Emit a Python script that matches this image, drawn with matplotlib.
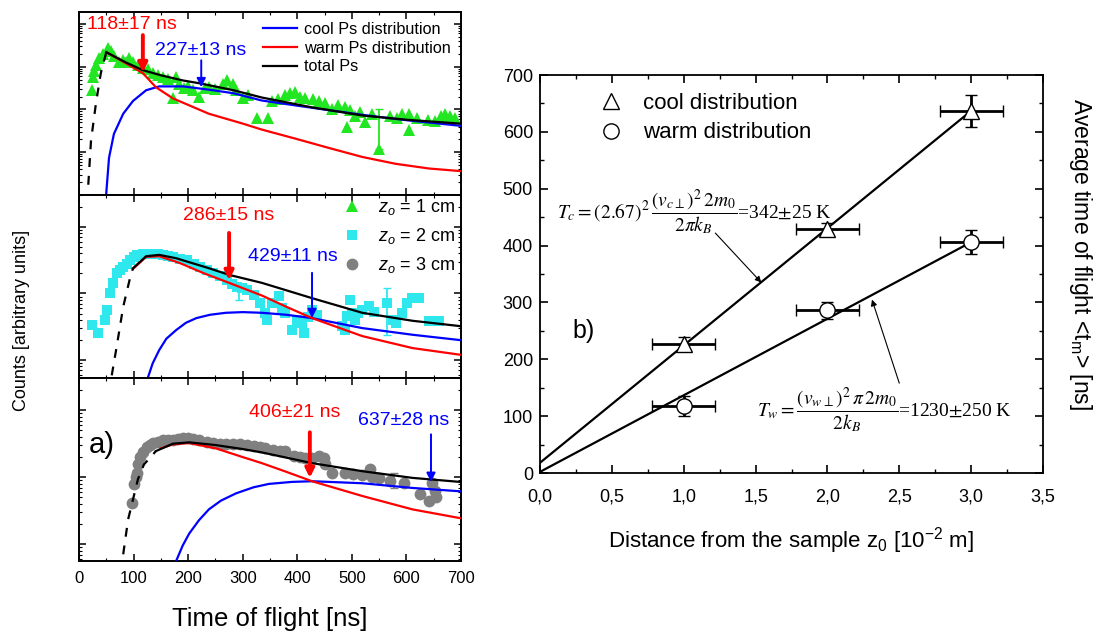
import numpy as np
import matplotlib.pyplot as plt
from matplotlib.lines import Line2D
from matplotlib.ticker import MultipleLocator, LogLocator, NullFormatter, FuncFormatter

plt.rcParams['font.family'] = ['Liberation Sans', 'DejaVu Sans']
plt.rcParams['mathtext.fontset'] = 'custom'
plt.rcParams['mathtext.rm'] = 'Liberation Sans'
plt.rcParams['mathtext.it'] = 'Liberation Sans:italic'
plt.rcParams['mathtext.bf'] = 'Liberation Sans:bold'

NARROW = ['Liberation Sans Narrow', 'Liberation Sans', 'DejaVu Sans']

# ---- panel a): time of flight spectra, values are log10(counts) ----
# z0 = 1 cm
p1_t = [24, 25, 27, 31, 37, 44, 53, 59, 64, 73, 80, 86, 92, 99, 108, 117, 126, 136, 145, 154,
        163, 172, 178, 183, 192, 200, 209, 220, 230, 238, 250, 264, 271, 282, 288, 300, 310, 326,
        346, 354, 365, 378, 387, 396, 405, 415, 428, 440, 451, 464, 475, 487, 491, 497, 506, 515,
        524, 537, 550, 570, 582, 592, 605, 605, 620, 640, 653, 664, 671, 680, 689]
p1_log = [2.45, 2.75, 2.9, 3.05, 3.2, 3.3, 3.43, 3.36, 3.25, 3.12, 3.15, 3.12, 3.2, 3.1, 3.05, 2.97,
          2.95, 2.85, 2.8, 2.75, 2.72, 2.28, 2.75, 2.6, 2.5, 2.55, 2.45, 2.3, 2.5, 2.52, 2.48, 2.6,
          2.68, 2.6, 2.45, 2.28, 2.35, 1.81, 1.81, 2.2, 2.25, 2.33, 2.38, 2.4, 2.3, 2.28, 2.25, 2.2,
          2.15, 2.0, 2.1, 2.05, 1.58, 1.98, 1.85, 1.95, 1.7, 1.9, 1.08, 1.85, 1.8, 1.9, 1.51, 1.9,
          1.8, 1.75, 1.74, 1.85, 1.9, 1.85, 1.81]
p1_dash_t = [17, 22, 31, 40, 50]
p1_dash_log = [0.24, 1.27, 2.14, 2.85, 3.34]
p1_total_t = [50, 86, 117, 150, 190, 222, 283, 335, 427, 519, 600, 698]
p1_total_log = [3.34, 3.1, 2.92, 2.8, 2.68, 2.61, 2.45, 2.28, 2.05, 1.86, 1.76, 1.67]
p1_warm_t = [50, 86, 117, 141, 172, 238, 300, 335, 396, 458, 519, 580, 641, 698]
p1_warm_log = [3.34, 3.08, 2.85, 2.52, 2.26, 1.9, 1.67, 1.53, 1.32, 1.1, 0.89, 0.73, 0.62, 0.56]
p1_cool_t = [50, 55, 64, 81, 99, 123, 147, 191, 240, 283, 335, 405, 466, 528, 600, 698]
p1_cool_log = [0.05, 0.87, 1.43, 1.9, 2.2, 2.45, 2.54, 2.54, 2.46, 2.38, 2.21, 2.08, 1.97, 1.86,
               1.75, 1.62]

# z0 = 2 cm
p2_t = [24, 35, 48, 51, 57, 63, 69, 75, 81, 88, 94, 100, 106, 117, 127, 136, 145, 154, 163, 172,
        185, 197, 210, 222, 234, 246, 258, 271, 280, 290, 299, 308, 320, 332, 341, 344, 354, 366,
        372, 378, 390, 400, 409, 412, 420, 427, 436, 482, 487, 491, 497, 500, 506, 512, 519, 531,
        540, 565, 575, 580, 592, 601, 611, 623, 642, 660]
p2_log = [1.53, 1.4, 1.6, 1.75, 2.0, 2.16, 2.31, 2.36, 2.4, 2.45, 2.5, 2.55, 2.58, 2.6, 2.6, 2.6,
          2.59, 2.58, 2.56, 2.55, 2.52, 2.5, 2.45, 2.4, 2.35, 2.31, 2.26, 2.2, 2.15, 2.1, 2.08, 2.05,
          1.98, 1.86, 1.7, 1.6, 1.86, 1.96, 1.78, 1.7, 1.45, 1.6, 1.55, 1.4, 1.65, 1.75, 1.68, 1.51,
          1.45, 1.66, 1.9, 1.7, 1.6, 1.7, 1.75, 1.81, 1.72, 1.86, 1.6, 1.55, 1.7, 1.86, 1.93, 1.93,
          1.59, 1.59]
p2_dash_t = [60, 69, 81, 94, 99]
p2_dash_log = [0.77, 1.2, 1.8, 2.25, 2.38]
p2_total_t = [99, 123, 147, 178, 238, 275, 335, 427, 519, 611, 698]
p2_total_log = [2.38, 2.56, 2.58, 2.53, 2.38, 2.28, 2.16, 1.93, 1.71, 1.59, 1.51]
p2_warm_t = [99, 123, 147, 184, 230, 275, 335, 380, 427, 519, 611, 698]
p2_warm_log = [2.37, 2.55, 2.56, 2.46, 2.3, 2.16, 1.97, 1.8, 1.63, 1.36, 1.18, 1.08]
p2_cool_t = [126, 135, 147, 160, 178, 196, 215, 240, 269, 300, 335, 380, 427, 519, 611, 698]
p2_cool_log = [0.73, 0.95, 1.15, 1.32, 1.45, 1.56, 1.63, 1.68, 1.71, 1.72, 1.71, 1.68, 1.63, 1.48,
               1.38, 1.3]

# z0 = 3 cm
p3_t = [97, 100, 104, 106, 109, 112, 117, 124, 130, 136, 145, 154, 163, 172, 182, 191, 200, 209,
        220, 234, 246, 258, 270, 283, 295, 308, 320, 332, 341, 356, 368, 378, 394, 405, 414, 427,
        440, 449, 451, 464, 488, 503, 519, 534, 537, 550, 570, 596, 624, 642, 647, 652, 655]
p3_log = [1.61, 1.9, 2.0, 2.06, 2.2, 2.3, 2.38, 2.45, 2.48, 2.51, 2.53, 2.55, 2.55, 2.55, 2.57,
          2.58, 2.58, 2.57, 2.55, 2.52, 2.51, 2.5, 2.5, 2.49, 2.49, 2.48, 2.47, 2.45, 2.43, 2.4,
          2.39, 2.39, 2.31, 2.3, 2.28, 2.28, 2.31, 2.28, 2.19, 2.06, 2.06, 2.05, 2.04, 2.12, 2.01,
          1.99, 1.95, 1.91, 1.75, 1.64, 1.91, 1.79, 1.7]
p3_dash_t = [81, 90, 99, 108, 119, 141]
p3_dash_log = [0.85, 1.37, 1.67, 1.97, 2.19, 2.39]
p3_total_t = [141, 172, 202, 250, 300, 335, 427, 519, 611, 698]
p3_total_log = [2.39, 2.5, 2.52, 2.48, 2.42, 2.37, 2.21, 2.09, 1.99, 1.93]
p3_warm_t = [150, 172, 202, 251, 300, 335, 380, 427, 519, 611, 698]
p3_warm_log = [2.43, 2.49, 2.51, 2.43, 2.3, 2.21, 2.08, 1.94, 1.72, 1.52, 1.39]
p3_cool_t = [178, 190, 202, 220, 238, 260, 288, 320, 348, 390, 427, 519, 611, 698]
p3_cool_log = [0.75, 0.98, 1.16, 1.36, 1.52, 1.65, 1.76, 1.85, 1.9, 1.93, 1.94, 1.91, 1.84, 1.79]

# error bars shown in the spectra: (t, low, point, high) in log10 counts
p1_err = (550, 1.08, 1.08, 2.02)
p2_err = [(565, 1.38, 1.86, 2.08), (293, 1.9, 1.98, 2.05)]
p3_err = (578, 1.84, 1.95, 2.06)

# fitted mean times [ns] for warm / cool components
warm_times = [118, 286, 406]
warm_errs = [17, 15, 21]
cool_times = [227, 429, 637]
cool_errs = [13, 11, 28]

# ---- panel b) ----
z0 = [1.0, 2.0, 3.0]
z0_err = [0.22, 0.22, 0.22]
fit_z = [0.0, 3.0]
cool_fit = [18, 637]
warm_fit = [2, 406]

RED = '#ff0000'
BLUE = '#0000ff'
GREEN = '#22e622'
CYAN = '#2ee8ee'
GRAY = '#808080'

fig = plt.figure(figsize=(10.99, 6.33), dpi=100)

L, W = 79 / 1099, 382 / 1099
ax1 = fig.add_axes([L, 1 - 195 / 633, W, 183 / 633])
ax2 = fig.add_axes([L, 1 - 378 / 633, W, 183 / 633])
ax3 = fig.add_axes([L, 1 - 561 / 633, W, 183 / 633])

def p10(v):
    return 10 ** np.asarray(v, dtype=float)

def spectrum(ax, t, lg, mk, col, ms, dt, dl, tt, tl, wt, wl, ct, cl, ylo, yhi, lab):
    h, = ax.plot(t, p10(lg), ls='none', marker=mk, ms=ms, color=col, mew=0, label=lab, zorder=2)
    ax.plot(ct, p10(cl), color=BLUE, lw=1.6, zorder=3)
    ax.plot(wt, p10(wl), color=RED, lw=1.6, zorder=3)
    ax.plot(tt, p10(tl), color='black', lw=1.6, zorder=4)
    ax.plot(dt, p10(dl), color='black', lw=1.6, ls=(0, (4, 4)), zorder=4)
    ax.set_yscale('log')
    ax.set_xlim(0, 700)
    ax.set_ylim(10 ** ylo, 10 ** yhi)
    ax.xaxis.set_major_locator(MultipleLocator(100))
    ax.xaxis.set_minor_locator(MultipleLocator(50))
    ax.yaxis.set_major_locator(LogLocator(base=10, numticks=10))
    ax.yaxis.set_minor_locator(LogLocator(base=10, subs=np.arange(2, 10), numticks=30))
    ax.yaxis.set_major_formatter(NullFormatter())
    ax.yaxis.set_minor_formatter(NullFormatter())
    ax.tick_params(which='both', direction='in', top=True, right=True, labelsize=12, pad=7)
    ax.tick_params(which='major', length=5, width=1.1)
    ax.tick_params(which='minor', length=2.5, width=0.8)
    for s in ax.spines.values():
        s.set_linewidth(1.4)
    return h

def errbar(ax, e, col):
    t, lo, y, hi = e
    ax.errorbar([t], [10 ** y], yerr=[[10 ** y - 10 ** lo], [10 ** hi - 10 ** y]],
                fmt='none', ecolor=col, elinewidth=1.3, capsize=3, zorder=2)

h1 = spectrum(ax1, p1_t, p1_log, '^', GREEN, 9, p1_dash_t, p1_dash_log, p1_total_t, p1_total_log,
              p1_warm_t, p1_warm_log, p1_cool_t, p1_cool_log, 0.0, 4.28, r'$z_o$ = 1 cm')
h2 = spectrum(ax2, p2_t, p2_log, 's', CYAN, 7, p2_dash_t, p2_dash_log, p2_total_t, p2_total_log,
              p2_warm_t, p2_warm_log, p2_cool_t, p2_cool_log, 0.73, 3.48, r'$z_o$ = 2 cm')
h3 = spectrum(ax3, p3_t, p3_log, 'o', GRAY, 8.5, p3_dash_t, p3_dash_log, p3_total_t, p3_total_log,
              p3_warm_t, p3_warm_log, p3_cool_t, p3_cool_log, 0.75, 3.48, r'$z_o$ = 3 cm')
errbar(ax1, p1_err, GREEN)
for e in p2_err:
    errbar(ax2, e, CYAN)
errbar(ax3, p3_err, GRAY)

ax1.tick_params(labelbottom=False)
ax2.tick_params(labelbottom=False)
ax3.set_xlabel('Time of flight [ns]', fontsize=18.5, labelpad=15)

# arrows marking the mean times: (text t, text log, arrow t, tail log, head log, ...)
marks = [
    (ax1, 97, 3.99, 117, 3.74, 2.87, warm_times[0], warm_errs[0], RED, 2.8),
    (ax1, 222, 3.39, 224, 3.15, 2.52, cool_times[0], cool_errs[0], BLUE, 1.4),
    (ax2, 275, 3.17, 275, 2.91, 2.2, warm_times[1], warm_errs[1], RED, 2.8),
    (ax2, 392, 2.55, 427, 2.31, 1.63, cool_times[1], cool_errs[1], BLUE, 1.4),
    (ax3, 396, 2.96, 423, 2.67, 1.99, warm_times[2], warm_errs[2], RED, 2.8),
    (ax3, 594, 2.85, 645, 2.64, 1.93, cool_times[2], cool_errs[2], BLUE, 1.4),
]
for ax, tx, ty, at, a0, a1, val, err, col, lw in marks:
    ax.text(tx, 10 ** ty, f'{val}\u00b1{err} ns', color=col, fontsize=14, ha='center', va='center')
    ax.annotate('', xy=(at, 10 ** a1), xytext=(at, 10 ** a0),
                arrowprops=dict(arrowstyle='-|>', color=col, lw=lw, mutation_scale=13,
                                shrinkA=0, shrinkB=0), zorder=5)

ax3.text(42, 10 ** 2.48, 'a)', fontsize=21, ha='center', va='center')

ax1.legend(handles=[Line2D([], [], color=BLUE, lw=1.6), Line2D([], [], color=RED, lw=1.6),
                    Line2D([], [], color='black', lw=1.6)],
           labels=['cool Ps distribution', 'warm Ps distribution', 'total Ps'],
           loc='upper left', bbox_to_anchor=(0.482, 0.945), frameon=False, fontsize=11.7,
           borderpad=0, borderaxespad=0, handlelength=2.1, labelspacing=0.22, handletextpad=0.4)
ax2.legend(handles=[h1, h2, h3], loc='upper left', bbox_to_anchor=(0.69, 0.99), frameon=False,
           fontsize=13, borderpad=0, borderaxespad=0, handlelength=1.0, labelspacing=0.5,
           handletextpad=0.95)

fig.text(0.02, 0.493, 'Counts [arbitrary units]', rotation=90, fontsize=13, ha='center',
         va='center')

# ---- panel b) ----
axr = fig.add_axes([540 / 1099, 1 - 473 / 633, 503 / 1099, 398 / 633])
axr.plot(fit_z, cool_fit, color='black', lw=1.6, zorder=2)
axr.plot(fit_z, warm_fit, color='black', lw=1.6, zorder=2)
axr.errorbar(z0, cool_times, xerr=z0_err, yerr=cool_errs, fmt='^', ms=11, mfc='white', mec='black',
             mew=1.0, ecolor='black', elinewidth=2.0, capsize=4, capthick=2.0, zorder=3)
axr.errorbar(z0, warm_times, xerr=z0_err, yerr=warm_errs, fmt='o', ms=11, mfc='white', mec='black',
             mew=1.0, ecolor='black', elinewidth=2.0, capsize=4, capthick=2.0, zorder=3)
axr.set_xlim(0, 3.5)
axr.set_ylim(0, 700)
axr.xaxis.set_major_locator(MultipleLocator(0.5))
axr.xaxis.set_minor_locator(MultipleLocator(0.25))
axr.yaxis.set_major_locator(MultipleLocator(100))
axr.yaxis.set_minor_locator(MultipleLocator(50))
axr.xaxis.set_major_formatter(FuncFormatter(lambda v, p: f'{v:.1f}'.replace('.', ',')))
axr.tick_params(which='both', direction='in', top=True, right=True, labelsize=13)
axr.tick_params(axis='x', pad=11)
axr.tick_params(axis='y', pad=5)
axr.tick_params(which='major', length=6, width=1.2)
axr.tick_params(which='minor', length=3, width=1)
for s in axr.spines.values():
    s.set_linewidth(1.3)
for lbl in axr.get_xticklabels() + axr.get_yticklabels():
    lbl.set_fontfamily(NARROW)
axr.set_xlabel('Distance from the sample z$\\mathregular{_0}$ [10$\\mathregular{^{-2}}$ m]',
               fontsize=16, family=NARROW, labelpad=14)
axr.yaxis.set_label_position('right')
axr.set_ylabel('Average time of flight <t$\\mathregular{_m}$> [ns]', fontsize=16.5, rotation=270,
               va='center')
axr.yaxis.set_label_coords(1.074, 0.55)

hc = Line2D([], [], ls='none', marker='^', ms=11, mfc='white', mec='black', mew=1.0)
hw = Line2D([], [], ls='none', marker='o', ms=11, mfc='white', mec='black', mew=1.0)
axr.legend(handles=[hc, hw], labels=['cool distribution', 'warm distribution'], loc='upper left',
           bbox_to_anchor=(0.12, 0.955), frameon=False, prop={'family': NARROW, 'size': 16},
           borderpad=0, borderaxespad=0, handlelength=1.0, handletextpad=0.9, labelspacing=0.38)

axr.text(0.3, 250, 'b)', fontsize=18, family=NARROW, ha='center', va='center')
axr.text(0.12, 459, r'$T_c = (2.67)^2\,\dfrac{(v_{c\perp})^2\,2m_0}{2\pi k_B}$=342$\pm$25 K',
         math_fontfamily='stix', family='Liberation Serif', fontsize=14, ha='left', va='center')
axr.text(1.51, 111, r'$T_w = \dfrac{(v_{w\perp})^2\,\pi\,2m_0}{2k_B}$=1230$\pm$250 K',
         math_fontfamily='stix', family='Liberation Serif', fontsize=14, ha='left', va='center')
axr.annotate('', xy=(1.54, 335), xytext=(1.22, 422),
             arrowprops=dict(arrowstyle='-|>', color='black', lw=0.8, mutation_scale=9,
                             shrinkA=0, shrinkB=0))
axr.annotate('', xy=(2.31, 305), xytext=(2.5, 158),
             arrowprops=dict(arrowstyle='-|>', color='black', lw=0.8, mutation_scale=9,
                             shrinkA=0, shrinkB=0))

fig.savefig('out.png', dpi=100)
